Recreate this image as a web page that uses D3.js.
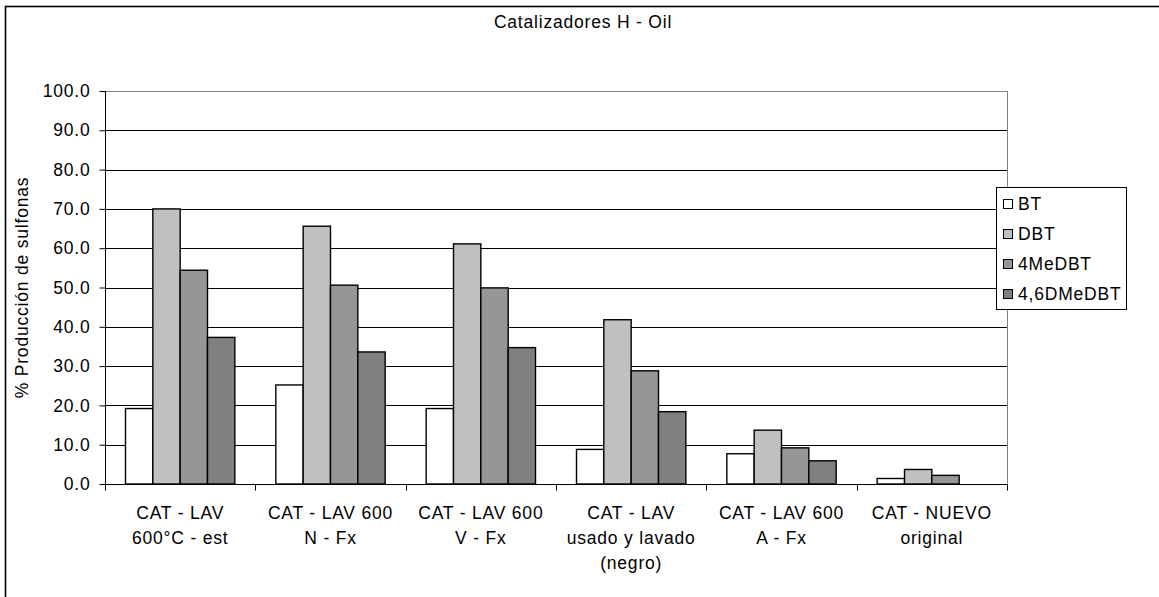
<!DOCTYPE html>
<html>
<head>
<meta charset="utf-8">
<script src="https://cdn.jsdelivr.net/npm/d3@7"></script>
<style>
  html, body { margin: 0; padding: 0; background: #fff; }
  svg { display: block; }
  text { font-family: "Liberation Sans", Arial, sans-serif; fill: #000; letter-spacing: 0.8px; }
</style>
</head>
<body>
<svg id="chart" width="1159" height="597"></svg>
<script>
// Catalyst samples (x categories, each label split into lines)
const categories = [
  ["CAT - LAV", "600°C - est"],
  ["CAT - LAV 600", "N - Fx"],
  ["CAT - LAV 600", "V - Fx"],
  ["CAT - LAV", "usado y lavado", "(negro)"],
  ["CAT - LAV 600", "A - Fx"],
  ["CAT - NUEVO", "original"]
];
const seriesNames = ["BT", "DBT", "4MeDBT", "4,6DMeDBT"];
const seriesColors = ["#ffffff", "#c0c0c0", "#969696", "#808080"];

// % sulfone production per sample
const valuesBT       = [19.2, 25.2, 19.2, 8.8, 7.7, 1.4];
const valuesDBT      = [70.0, 65.6, 61.1, 41.8, 13.7, 3.7];
const values4MeDBT   = [54.4, 50.6, 49.9, 28.8, 9.2, 2.2];
const values46DMeDBT = [37.3, 33.6, 34.7, 18.4, 5.9, 0.0];

const yTicks = [0, 10, 20, 30, 40, 50, 60, 70, 80, 90, 100];

const seriesValues = [valuesBT, valuesDBT, values4MeDBT, values46DMeDBT];

const svg = d3.select("#chart");
const FONT = 17.5;

// outer chart frame
svg.append("rect")
  .attr("x", 5.5).attr("y", 6.5)
  .attr("width", 1300).attr("height", 800)
  .attr("fill", "#fff").attr("stroke", "#000").attr("stroke-width", 1.6);

// title
svg.append("text")
  .attr("x", 583).attr("y", 28)
  .attr("text-anchor", "middle")
  .style("font-size", FONT + "px")
  .text("Catalizadores H - Oil");

const plot = { left: 105, right: 1007, top: 91, bottom: 484 };

const catKeys = categories.map((c, i) => i);
const x0 = d3.scaleBand().domain(catKeys).range([plot.left, plot.right]).padding(0);
const bw = x0.bandwidth();
// 150% gap width: 4 bars + 1.5 bar widths of gap per category
const barW = bw / 5.5;
const x1 = d3.scaleBand().domain(seriesNames)
  .range([barW * 0.75, bw - barW * 0.75]).padding(0);

const y = d3.scaleLinear().domain([0, 100]).range([plot.bottom, plot.top]);

// plot area border
svg.append("rect")
  .attr("x", plot.left + 0.5).attr("y", plot.top + 0.5)
  .attr("width", plot.right - plot.left).attr("height", plot.bottom - plot.top)
  .attr("fill", "#fff").attr("stroke", "#808080").attr("stroke-width", 1);

// gridlines
svg.append("g").selectAll("line")
  .data(yTicks.filter(t => t > 0 && t < 100))
  .join("line")
  .attr("x1", plot.left).attr("x2", plot.right)
  .attr("y1", d => Math.round(y(d)) + 0.5)
  .attr("y2", d => Math.round(y(d)) + 0.5)
  .attr("stroke", "#000").attr("stroke-width", 1);

// bars
const groups = svg.append("g").selectAll("g")
  .data(catKeys)
  .join("g")
  .attr("transform", i => `translate(${x0(i)},0)`);

groups.selectAll("rect")
  .data(i => seriesNames.map((s, k) => ({ s, k, v: seriesValues[k][i] })))
  .join("rect")
  .filter(d => d.v > 0)
  .attr("x", d => x1(d.s))
  .attr("y", d => y(d.v))
  .attr("width", x1.bandwidth())
  .attr("height", d => y(0) - y(d.v))
  .attr("fill", d => seriesColors[d.k])
  .attr("stroke", "#000").attr("stroke-width", 1.4);

// y axis
const yAxis = d3.axisLeft(y).tickValues(yTicks).tickSize(6).tickFormat(d3.format(".1f"));
const gy = svg.append("g")
  .attr("transform", `translate(${plot.left + 0.5},0)`)
  .call(yAxis);
gy.select(".domain").attr("stroke", "#000").attr("d", `M0,${plot.top}V${plot.bottom}`);
gy.selectAll(".tick line").attr("stroke", "#000");
gy.selectAll(".tick text")
  .attr("x", -15)
  .style("font-size", FONT + "px")
  .style("font-family", "Liberation Sans, Arial, sans-serif");

// x axis with ticks on category boundaries
const gx = svg.append("g").attr("transform", `translate(0,${plot.bottom + 0.5})`);
gx.append("line")
  .attr("x1", plot.left).attr("x2", plot.right + 1)
  .attr("stroke", "#000");
gx.selectAll("line.tk")
  .data(catKeys.concat([categories.length]))
  .join("line").attr("class", "tk")
  .attr("x1", i => Math.round(i < categories.length ? x0(i) : plot.right) + 0.5)
  .attr("x2", i => Math.round(i < categories.length ? x0(i) : plot.right) + 0.5)
  .attr("y1", 0).attr("y2", 6)
  .attr("stroke", "#000");

const labels = gx.selectAll("text.cat")
  .data(catKeys)
  .join("text").attr("class", "cat")
  .attr("text-anchor", "middle")
  .style("font-size", FONT + "px")
  .attr("transform", i => `translate(${x0(i) + bw / 2},34)`);
labels.selectAll("tspan")
  .data(i => categories[i])
  .join("tspan")
  .attr("x", 0)
  .attr("y", (d, j) => j * 25)
  .text(d => d);

// y axis title
svg.append("text")
  .attr("transform", `translate(28,${(plot.top + plot.bottom) / 2}) rotate(-90)`)
  .attr("text-anchor", "middle")
  .style("font-size", FONT + "px")
  .text("% Producción de sulfonas");

// legend
const lg = svg.append("g").attr("transform", "translate(996,187)");
lg.append("rect")
  .attr("x", 0.5).attr("y", 0.5).attr("width", 130).attr("height", 122)
  .attr("fill", "#fff").attr("stroke", "#000").attr("stroke-width", 1);
const items = lg.selectAll("g.item")
  .data(seriesNames)
  .join("g").attr("class", "item")
  .attr("transform", (d, k) => `translate(0,${17 + k * 30})`);
items.append("rect")
  .attr("x", 7.5).attr("y", -4.5).attr("width", 9).attr("height", 9)
  .attr("fill", (d, k) => seriesColors[k])
  .attr("stroke", "#000").attr("stroke-width", 1);
items.append("text")
  .attr("x", 22).attr("y", 6)
  .style("font-size", FONT + "px")
  .text(d => d);
</script>
</body>
</html>
